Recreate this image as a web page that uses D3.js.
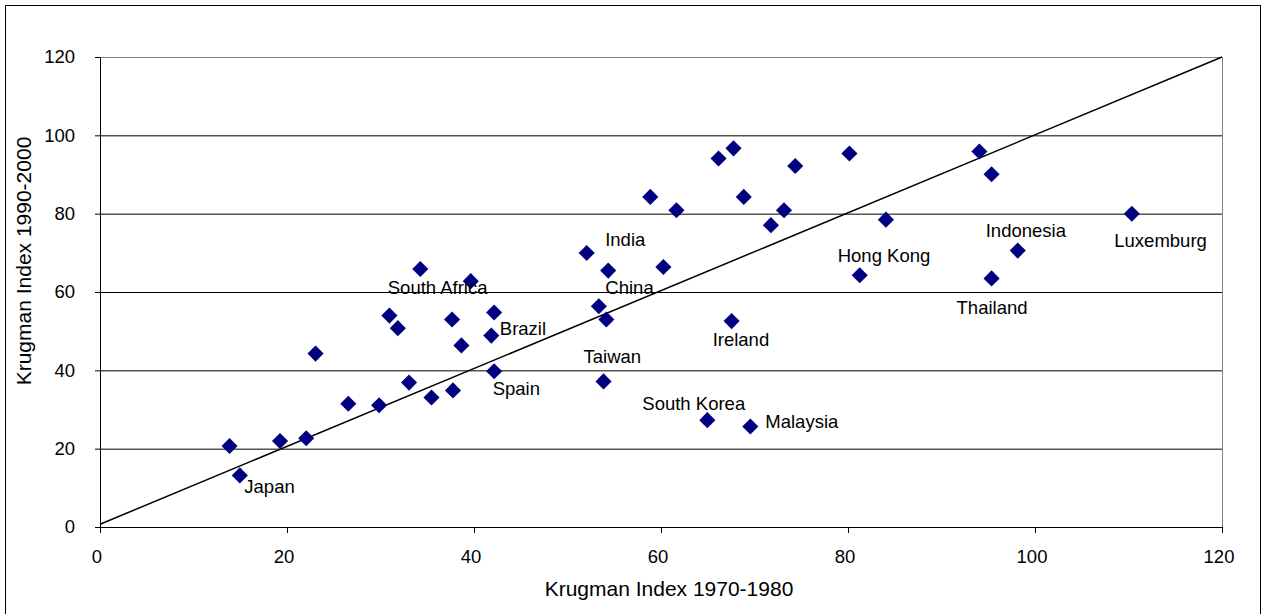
<!DOCTYPE html>
<html lang="en">
	<head>
		<meta charset="UTF-8" />
		<title>Krugman Index</title>
		<script src="https://d3js.org/d3.v7.min.js"></script>
		<style>
			html,
			body {
				margin: 0;
				background: #fff;
			}
			svg {
				display: block;
				font-family: 'Liberation Sans', Arial, sans-serif;
			}
			.tick text {
				font-size: 18.5px;
				fill: #000;
			}
			.label {
				font-size: 18.5px;
				fill: #000;
			}
			.title {
				font-size: 21px;
				fill: #000;
			}
		</style>
	</head>
	<body>
		<svg id="chart" width="1266" height="614"></svg>
		<script>
			// index values
			const idx7080 = [
				13.8, 14.9, 19.2, 22.0, 23.0, 26.5, 29.8, 30.9, 31.8, 33.0, 34.2,
				35.4, 37.6, 37.7, 38.6, 39.6, 41.8, 42.1, 42.1, 52.0, 53.3, 54.3,
				54.1, 53.8, 58.8, 60.2, 61.6, 64.9, 66.1, 67.7, 67.5, 68.8, 69.5,
				71.7, 73.1, 74.3, 80.1, 81.2, 84.0, 94.0, 95.3, 95.3, 98.1, 110.3,
			];
			const idx9000 = [
				20.8, 13.3, 22.1, 22.8, 44.4, 31.6, 31.2, 54.1, 50.9, 37.0, 66.0,
				33.2, 53.1, 35.0, 46.5, 62.9, 49.0, 54.9, 39.9, 70.1, 56.5, 65.6,
				53.1, 37.3, 84.4, 66.5, 81.0, 27.4, 94.2, 96.8, 52.7, 84.4, 25.8,
				77.2, 81.0, 92.3, 95.5, 64.4, 78.6, 96.0, 90.2, 63.6, 70.7, 80.1,
			];
			const countries = [
				'', 'Japan', '', '', '', '', '', '', '', '', 'South Africa',
				'', '', '', '', '', 'Brazil', '', 'Spain', 'India', 'China', '',
				'', 'Taiwan', '', '', '', 'South Korea', '', '', 'Ireland', '', 'Malaysia',
				'', '', '', '', 'Hong Kong', '', '', '', 'Thailand', 'Indonesia', 'Luxemburg',
			];
			const xTicks = [0, 20, 40, 60, 80, 100, 120];
			const yTicks = [0, 20, 40, 60, 80, 100, 120];
			const diagX = [0, 120];
			const diagY = [0.7, 120];

			// label placement in pixels relative to the marker
			const labelOffset = {
				Japan: [5, 18.5],
				'South Africa': [-32, 25],
				Brazil: [9, 0],
				Spain: [-1, 24],
				India: [19, -6.5],
				China: [7, -12],
				Taiwan: [-19.5, -18],
				Ireland: [-18.5, 25.5],
				'South Korea': [-64.5, -10],
				Malaysia: [15.5, 2],
				'Hong Kong': [-21.5, -12.5],
				Indonesia: [-31.5, -13.5],
				Thailand: [-34.5, 36],
				Luxemburg: [-17, 33.5],
			};

			const svg = d3.select('#chart');
			const W = +svg.attr('width');

			const x = d3.scaleLinear().domain([0, 120]).range([100, 1222]);
			const y = d3.scaleLinear().domain([0, 120]).range([527, 57]);

			// outer frame
			svg
				.append('rect')
				.attr('x', 5.5)
				.attr('y', 5.5)
				.attr('width', W - 11)
				.attr('height', 700)
				.attr('fill', 'none')
				.attr('stroke', '#000');

			// plot area border (top/right gray)
			svg
				.append('rect')
				.attr('x', x(0) + 0.5)
				.attr('y', y(120) + 0.5)
				.attr('width', x(120) - x(0))
				.attr('height', y(0) - y(120))
				.attr('fill', 'none')
				.attr('stroke', '#808080');

			// gridlines
			svg
				.append('g')
				.selectAll('line')
				.data(yTicks.filter((d) => d > 0 && d < 120))
				.join('line')
				.attr('x1', x(0))
				.attr('x2', x(120))
				.attr('y1', (d) => y(d) + 0.5)
				.attr('y2', (d) => y(d) + 0.5)
				.attr('stroke', '#000');

			const xAxis = svg
				.append('g')
				.attr('transform', `translate(0,${y(0)})`)
				.call(
					d3
						.axisBottom(x)
						.tickValues(xTicks)
						.tickSizeInner(6)
						.tickSizeOuter(0)
						.tickPadding(17),
				);
			xAxis.selectAll('.tick text').attr('dx', -3.5);

			svg
				.append('g')
				.attr('transform', `translate(${x(0)},0)`)
				.call(
					d3
						.axisLeft(y)
						.tickValues(yTicks)
						.tickSizeInner(5)
						.tickSizeOuter(0)
						.tickPadding(20),
				);

			svg.selectAll('.domain, .tick line').attr('stroke', '#000');
			svg.selectAll('.tick text').attr('font-family', null).attr('font-size', null);

			// 45 degree reference line
			svg
				.append('path')
				.attr(
					'd',
					d3
						.line()
						.x((d, i) => x(diagX[i]))
						.y((d) => y(d))(diagY),
				)
				.attr('fill', 'none')
				.attr('stroke', '#000')
				.attr('stroke-width', 1.5);

			const points = idx7080.map((v, i) => ({
				x: v,
				y: idx9000[i],
				name: countries[i],
			}));

			svg
				.append('g')
				.selectAll('path')
				.data(points)
				.join('path')
				.attr('d', d3.symbol(d3.symbolSquare, 130))
				.attr(
					'transform',
					(d) => `translate(${x(d.x) + 0.5},${y(d.y) + 0.5}) rotate(45)`,
				)
				.attr('fill', '#000080');

			svg
				.append('g')
				.selectAll('text')
				.data(points.filter((d) => d.name))
				.join('text')
				.attr('class', 'label')
				.attr('x', (d) => x(d.x) + labelOffset[d.name][0])
				.attr('y', (d) => y(d.y) + labelOffset[d.name][1])
				.text((d) => d.name);

			svg
				.append('text')
				.attr('class', 'title')
				.attr('x', 669)
				.attr('y', 596)
				.attr('text-anchor', 'middle')
				.text('Krugman Index 1970-1980');

			svg
				.append('text')
				.attr('class', 'title')
				.attr('transform', 'translate(31,261) rotate(-90)')
				.attr('text-anchor', 'middle')
				.text('Krugman Index 1990-2000');
		</script>
	</body>
</html>
